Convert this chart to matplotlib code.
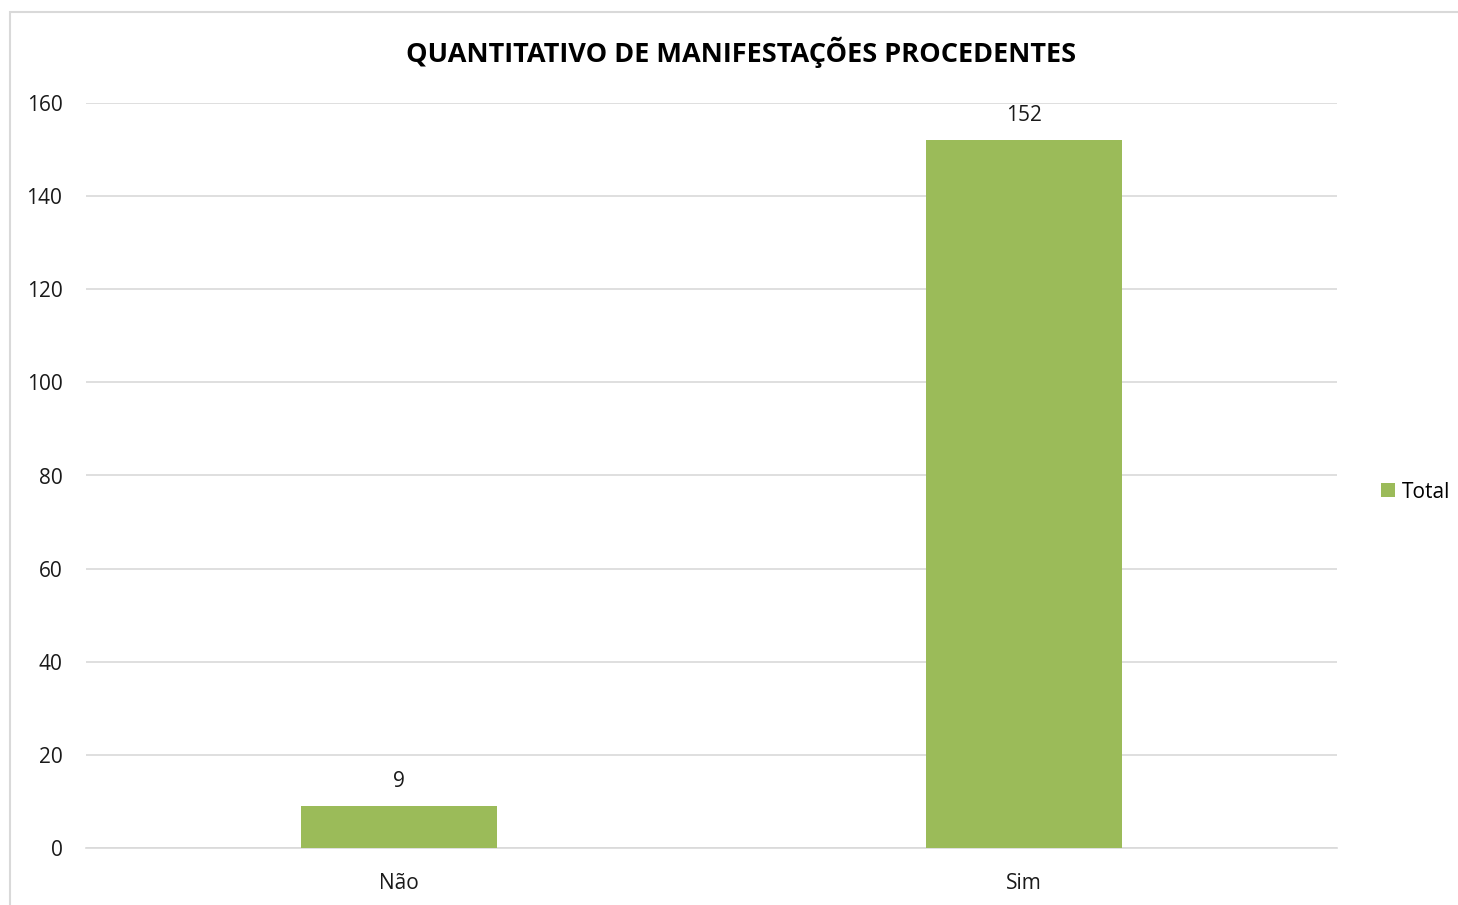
import matplotlib.pyplot as plt
from matplotlib.patches import Rectangle

# data
categorias = ["Não", "Sim"]
valores = [9, 152]
yticks = [0, 20, 40, 60, 80, 100, 120, 140, 160]

verde = "#9BBB59"
plt.rcParams['font.family'] = ['Open Sans', 'DejaVu Sans']

fig = plt.figure(figsize=(14.58, 9.05), dpi=100)
ax = fig.add_axes([86/1458, 1-848/905, (1337-86)/1458, (848-103)/905])

# moldura do gráfico
fig.patches.append(Rectangle((10/1458, -0.02), 1.0, 1.02-12/905, transform=fig.transFigure,
                             fill=False, edgecolor="#D9D9D9", linewidth=1.5))

x = range(len(categorias))
bars = ax.bar(x, valores, width=0.313, color=verde, label="Total", zorder=3)
for b, v in zip(bars, valores):
    ax.text(b.get_x() + b.get_width()/2, v + 3, str(v), ha="center", va="bottom",
            fontsize=15, color="#1a1a1a")

ax.set_xlim(-0.5, 1.5)
ax.set_ylim(0, 160)
ax.set_yticks(yticks)
ax.set_xticks(list(x))
ax.set_xticklabels(categorias)
ax.tick_params(axis="both", length=0, labelsize=15, labelcolor="#1a1a1a")
ax.tick_params(axis="y", pad=17)
ax.tick_params(axis="x", pad=18)
ax.grid(axis="y", color="#D9D9D9", linewidth=1.2, zorder=0)
for s in ["top", "right", "left"]:
    ax.spines[s].set_visible(False)
ax.spines["bottom"].set_color("#D9D9D9")
ax.spines["bottom"].set_linewidth(1.2)

fig.text(741/1458, 1-52/905, "QUANTITATIVO DE MANIFESTAÇÕES PROCEDENTES",
         ha="center", va="center", fontsize=19.5, fontweight="bold", color="black")

fig.legend(handles=[bars], labels=["Total"], loc="center left",
           bbox_to_anchor=(1362/1458, 1-492/905), frameon=False, fontsize=15,
           handlelength=0.7, handleheight=0.7, handletextpad=0.3)

plt.savefig("out.png", dpi=100)
